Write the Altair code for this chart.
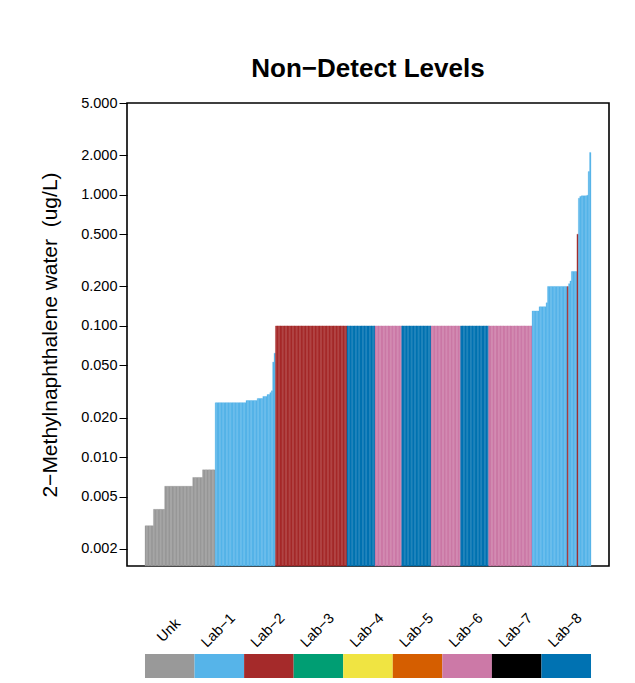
import altair as alt
import pandas as pd

# ---- data ----
lab_names = ["Unk", "Lab−1", "Lab−2", "Lab−3", "Lab−4", "Lab−5", "Lab−6", "Lab−7", "Lab−8"]
lab_colors = ["#999999", "#56B4E9", "#A52A2A", "#009E73", "#F0E442",
              "#D55E00", "#CC79A7", "#000000", "#0072B2"]

# run-length segments of the sorted non-detect levels: lab, level (ug/L), number of samples
seg_labs = ["Unk", "Unk", "Unk", "Unk", "Unk",
            "Lab−1", "Lab−1", "Lab−1", "Lab−1", "Lab−1", "Lab−1", "Lab−1", "Lab−1", "Lab−1",
            "Lab−2", "Lab−8", "Lab−6", "Lab−8", "Lab−6", "Lab−8", "Lab−6",
            "Lab−1", "Lab−1", "Lab−1", "Lab−1",
            "Lab−2",
            "Lab−1", "Lab−1", "Lab−1",
            "Lab−2",
            "Lab−1", "Lab−1", "Lab−1", "Lab−1", "Lab−1", "Lab−1"]
seg_values = [0.003, 0.004, 0.006, 0.007, 0.008,
              0.026, 0.027, 0.028, 0.029, 0.030, 0.031, 0.032, 0.053, 0.062,
              0.1, 0.1, 0.1, 0.1, 0.1, 0.1, 0.1,
              0.13, 0.14, 0.15, 0.2,
              0.2,
              0.21, 0.22, 0.26,
              0.5,
              0.94, 0.97, 0.98, 0.99, 1.5, 2.1]
seg_counts = [6, 8, 20, 7, 9,
              22, 8, 4, 3, 2, 1, 1, 1, 1,
              51, 20, 19, 21, 21, 20, 31,
              5, 5, 1, 14,
              1,
              1, 1, 4,
              1,
              1, 1, 4, 1, 1, 1]

y_ticks = [0.002, 0.005, 0.01, 0.02, 0.05, 0.1, 0.2, 0.5, 1, 2, 5]

# ---- build per-sample table ----
rows = []
k = 0
for lab, v, n in zip(seg_labs, seg_values, seg_counts):
    for _ in range(n):
        rows.append({"i": k, "i2": k + 1, "level": v, "lab": lab})
        k += 1
df = pd.DataFrame(rows)
N = len(df)
pad = 12.86

FONT = "Liberation Sans"
W, H = 482, 463

color_scale = alt.Scale(domain=lab_names, range=lab_colors)

bars = alt.Chart(df).mark_rect(strokeWidth=0.3).encode(
    x=alt.X("i:Q", axis=None, scale=alt.Scale(domain=[-pad, N + pad], nice=False, zero=False)),
    x2="i2:Q",
    y=alt.Y("level:Q",
            scale=alt.Scale(type="log", domain=[0.00148, 5.0], nice=False),
            axis=alt.Axis(values=y_ticks, format=".3f", title="2−Methylnaphthalene water \u00a0(ug/L)",
                          titleFont=FONT, titleFontSize=21, titleFontWeight="normal", titleColor="black",
                          titlePadding=20,
                          labelFont=FONT, labelFontSize=14.5, labelColor="black", labelPadding=2,
                          labelFlush=False, labelOverlap=False,
                          tickSize=8, tickColor="black", tickWidth=1,
                          domain=False, grid=False)),
    y2=alt.value(H),
    color=alt.Color("lab:N", scale=color_scale, legend=None),
    stroke=alt.Stroke("lab:N", scale=color_scale, legend=None),
).properties(
    width=W, height=H,
    view=alt.ViewBackground(stroke="black", strokeWidth=1.6),
    title=alt.TitleParams("Non−Detect Levels", font=FONT, fontSize=26, fontWeight="bold",
                          anchor="middle", color="black", offset=13),
)

leg_df = pd.DataFrame({"lab": lab_names})
leg_x = alt.X("lab:N", sort=lab_names, axis=None,
              scale=alt.Scale(paddingInner=0, paddingOuter=0.363))
leg_rect = alt.Chart(leg_df).mark_rect().encode(
    x=leg_x,
    y=alt.value(44), y2=alt.value(68),
    color=alt.Color("lab:N", scale=color_scale, legend=None),
)
leg_text = alt.Chart(leg_df).mark_text(angle=315, align="center", baseline="middle",
                                       font=FONT, fontSize=14.5, color="black", dx=-1).encode(
    x=leg_x,
    y=alt.value(20),
    text="lab:N",
)
legend = alt.layer(leg_rect, leg_text).properties(width=W, height=68)

chart = alt.vconcat(bars, legend, spacing=42).properties(
    padding={"left": 30, "top": 47, "right": 5, "bottom": 0}
).configure_view(stroke="transparent")

chart.save("out.html", embed_options={"renderer": "svg", "actions": False})
